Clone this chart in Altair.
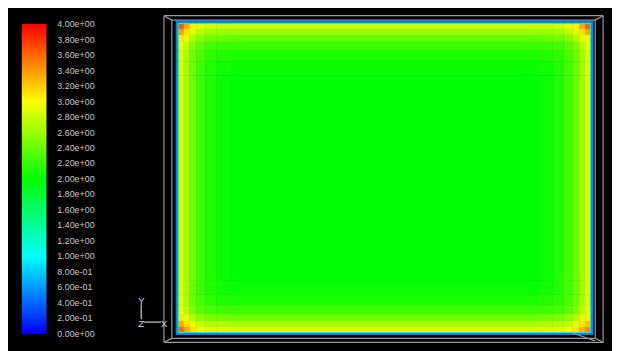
import json
import altair as alt
import pandas as pd

# ---------------- data ----------------
# contour colour bar
legend_values = [0.0, 0.2, 0.4, 0.6, 0.8, 1.0, 1.2, 1.4, 1.6, 1.8, 2.0,
                 2.2, 2.4, 2.6, 2.8, 3.0, 3.2, 3.4, 3.6, 3.8, 4.0]
legend_labels = ["0.00e+00", "2.00e-01", "4.00e-01", "6.00e-01", "8.00e-01",
                 "1.00e+00", "1.20e+00", "1.40e+00", "1.60e+00", "1.80e+00",
                 "2.00e+00", "2.20e+00", "2.40e+00", "2.60e+00", "2.80e+00",
                 "3.00e+00", "3.20e+00", "3.40e+00", "3.60e+00", "3.80e+00",
                 "4.00e+00"]
color_stops = [-0.001, 1, 2, 3, 4.001]
color_range = ["#0000ff", "#00ffff", "#00ff00", "#ffff00", "#ff0000"]

# contour cells (model units), columns left->right, rows top->bottom
col_edges = [0, 2, 3, 8, 14, 21, 30, 41, 55, 368, 382, 393, 402, 409, 415, 420, 421, 423]
row_edges = [318, 316, 315, 310, 304, 297, 288, 277, 263, 55, 41, 30, 21, 14, 8, 3, 2, 0]
field = [
    [0.5, 0.5, 0.5, 0.5, 0.5, 0.5, 0.5, 0.5, 0.5, 0.5, 0.5, 0.5, 0.5, 0.5, 0.5, 0.5, 0.5],
    [0.5, 1.2, 1.2, 1.2, 1.2, 1.2, 1.2, 1.2, 1.2, 1.2, 1.2, 1.2, 1.2, 1.2, 1.2, 1.2, 0.5],
    [0.5, 1.2, 3.65, 3.35, 3.05, 2.9, 2.82, 2.8, 2.8, 2.8, 2.82, 2.9, 3.05, 3.35, 3.6, 1.2, 0.5],
    [0.5, 1.2, 3.4, 3.12, 2.88, 2.72, 2.64, 2.6, 2.58, 2.6, 2.64, 2.72, 2.88, 3.12, 3.35, 1.2, 0.5],
    [0.5, 1.2, 3.1, 2.9, 2.7, 2.52, 2.44, 2.4, 2.38, 2.4, 2.44, 2.52, 2.7, 2.9, 3.05, 1.2, 0.5],
    [0.5, 1.2, 2.95, 2.72, 2.5, 2.35, 2.27, 2.23, 2.22, 2.23, 2.27, 2.35, 2.5, 2.72, 2.95, 1.2, 0.5],
    [0.5, 1.2, 2.9, 2.67, 2.44, 2.28, 2.17, 2.12, 2.1, 2.12, 2.17, 2.28, 2.44, 2.67, 2.9, 1.2, 0.5],
    [0.5, 1.2, 2.9, 2.65, 2.42, 2.25, 2.12, 2.06, 2.03, 2.06, 2.12, 2.25, 2.42, 2.65, 2.9, 1.2, 0.5],
    [0.5, 1.2, 2.9, 2.65, 2.42, 2.25, 2.12, 2.04, 2.0, 2.04, 2.12, 2.25, 2.42, 2.65, 2.9, 1.2, 0.5],
    [0.5, 1.2, 2.9, 2.65, 2.42, 2.25, 2.12, 2.06, 2.03, 2.06, 2.12, 2.25, 2.42, 2.65, 2.9, 1.2, 0.5],
    [0.5, 1.2, 2.9, 2.67, 2.44, 2.28, 2.17, 2.12, 2.1, 2.12, 2.17, 2.28, 2.44, 2.67, 2.9, 1.2, 0.5],
    [0.5, 1.2, 2.95, 2.72, 2.5, 2.35, 2.28, 2.25, 2.24, 2.25, 2.28, 2.35, 2.5, 2.72, 2.95, 1.2, 0.5],
    [0.5, 1.2, 3.1, 2.9, 2.7, 2.55, 2.48, 2.45, 2.43, 2.45, 2.48, 2.55, 2.7, 2.9, 3.05, 1.2, 0.5],
    [0.5, 1.2, 3.35, 3.12, 2.9, 2.75, 2.7, 2.67, 2.65, 2.67, 2.7, 2.75, 2.9, 3.1, 3.25, 1.2, 0.5],
    [0.5, 1.2, 3.6, 3.35, 3.1, 2.95, 2.9, 2.88, 2.88, 2.88, 2.9, 2.95, 3.1, 3.3, 3.45, 1.2, 0.5],
    [0.5, 1.2, 1.2, 1.2, 1.2, 1.2, 1.2, 1.2, 1.2, 1.2, 1.2, 1.2, 1.2, 1.2, 1.2, 1.2, 0.5],
    [0.5, 0.5, 0.5, 0.5, 0.5, 0.5, 0.5, 0.5, 0.5, 0.5, 0.5, 0.5, 0.5, 0.5, 0.5, 0.5, 0.5],
]

# wireframe of the domain (model units)
frame_x = [-12, -12, -12, 433, -4, -4, -4, 425, -12, 433, -12, 433, 402]
frame_y = [323.5, -7.5, 323.5, 323.5, 319, -3.5, 319, 319, 323.5, 323.5, -7.5, -7.5, 2]
frame_x2 = [433, 433, -12, 433, 425, 425, -4, 425, -4, 425, -4, 425, 425]
frame_y2 = [323.5, -7.5, -7.5, -7.5, 319, -3.5, -3.5, -3.5, 319, 319, -3.5, -3.5, -6]

# coordinate triad
triad_text = ["Y", "Z", "X"]
triad_tx = [-35, -35, -12]
triad_ty = [34, 11, 11]
triad_x = [-35, -32]
triad_y = [31, 13]
triad_x2 = [-35, -15]
triad_y2 = [16, 13]

# ---------------- build tables ----------------
cells = []
for r in range(len(row_edges) - 1):
    for c in range(len(col_edges) - 1):
        cells.append({"x0": col_edges[c], "x1": col_edges[c + 1],
                      "y0": row_edges[r + 1], "y1": row_edges[r],
                      "value": field[r][c]})
cells = pd.DataFrame(cells)
frame = pd.DataFrame({"x": frame_x, "y": frame_y, "x2": frame_x2, "y2": frame_y2})
triad_lines = pd.DataFrame({"x": triad_x, "y": triad_y, "x2": triad_x2, "y2": triad_y2})
triad_labels = pd.DataFrame({"x": triad_tx, "y": triad_ty, "t": triad_text})

W, H = 612, 343
xs = alt.Scale(domain=[-170, W - 170], nice=False, zero=False)
ys = alt.Scale(domain=[329 - H, 329], nice=False, zero=False)

label_expr = json.dumps(legend_labels) + "[round(datum.value*5)]"

cscale = alt.Scale(domain=color_stops, range=color_range, interpolate="rgb")
legend = alt.Legend(
    type="gradient",
    orient="none", legendX=14, legendY=14, direction="vertical",
    title=None, values=legend_values, labelExpr=label_expr,
    gradientLength=314, gradientThickness=25, gradientStrokeWidth=0,
    labelFont="Liberation Sans", labelFontSize=9, labelColor="#c8c8c8",
    labelOffset=11, labelOverlap=False, labelBaseline="middle",
    padding=0)

pos = dict(
    x=alt.X("x0:Q", scale=xs, axis=None),
    x2="x1:Q",
    y=alt.Y("y0:Q", scale=ys, axis=None),
    y2="y1:Q",
)

# the cells are drawn twice so that anti-aliasing seams between them vanish
contour_under = alt.Chart(cells).mark_rect().encode(
    color=alt.Color("value:Q", scale=cscale, legend=legend), **pos)

contour = alt.Chart(cells).mark_rect().encode(
    color=alt.Color("value:Q", scale=cscale, legend=legend), **pos)

wire = alt.Chart(frame).mark_rule(color="#9a9a9a", strokeWidth=1.2).encode(
    x=alt.X("x:Q", scale=xs, axis=None), y=alt.Y("y:Q", scale=ys, axis=None),
    x2="x2:Q", y2="y2:Q")

tri = alt.Chart(triad_lines).mark_rule(color="#cfcfcf", strokeWidth=1.2).encode(
    x=alt.X("x:Q", scale=xs, axis=None), y=alt.Y("y:Q", scale=ys, axis=None),
    x2="x2:Q", y2="y2:Q")

tri_txt = alt.Chart(triad_labels).mark_text(
    font="Liberation Sans", fontSize=10, color="#d8d8d8").encode(
    x=alt.X("x:Q", scale=xs, axis=None), y=alt.Y("y:Q", scale=ys, axis=None),
    text="t:N")

chart = alt.layer(contour_under, contour, wire, tri, tri_txt).properties(
    width=W, height=H, padding=0, background="black",
    autosize=alt.AutoSizeParams(type="none"),
).configure_view(stroke=None)

chart.save("out.html", embed_options={"renderer": "svg", "actions": False})
